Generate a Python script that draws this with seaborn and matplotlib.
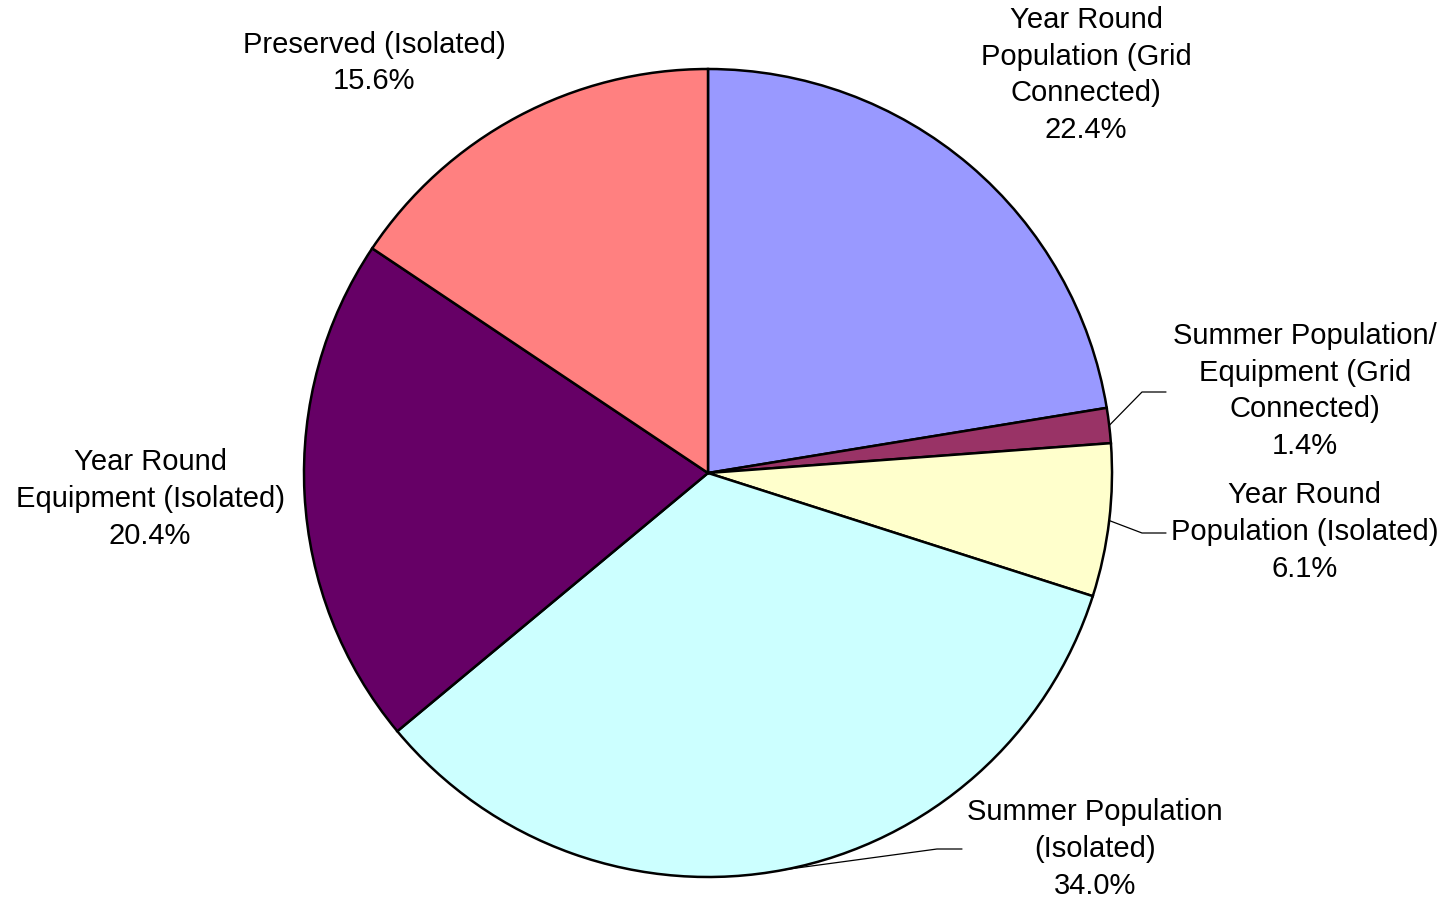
import matplotlib
matplotlib.use("Agg")
import matplotlib.pyplot as plt
import seaborn as sns
import numpy as np

labels = ['Year Round\nPopulation (Grid\nConnected)',
          'Summer Population/\nEquipment (Grid\nConnected)',
          'Year Round\nPopulation (Isolated)',
          'Summer Population\n(Isolated)',
          'Year Round\nEquipment (Isolated)',
          'Preserved (Isolated)']
shares = [22.4, 1.4, 6.1, 34.0, 20.4, 15.6]
colors = ['#9999FF', '#993366', '#FFFFCC', '#CCFFFF', '#660066', '#FF8080']

sns.set_theme(style="white")
plt.rcParams['font.family'] = ['Liberation Sans', 'DejaVu Sans']

W, H = 1451, 900
fig = plt.figure(figsize=(W / 100, H / 100), dpi=100)
ax = fig.add_axes([0, 0, 1, 1])

cx, cy, R = 708, H - 473, 404
wedges, _ = ax.pie(shares, colors=colors, startangle=90, counterclock=False,
                   center=(cx, cy), radius=R, frame=True,
                   wedgeprops=dict(edgecolor='black', linewidth=1.8))
ax.set_xlim(0, W)
ax.set_ylim(0, H)
ax.set_aspect('equal')
ax.axis('off')

# label centres (pixel, from top) and optional leader elbow / end
label_pos = [(1086, 75), (1305, 391), (1305, 532), (1095, 849), (150, 499), (374, 63)]
leaders = [None, ((1142, 392), (1166, 392)), ((1142, 533), (1166, 533)),
           ((937, 849), (962, 849)), None, None]

for w, lab, val, pos, ld in zip(wedges, labels, shares, label_pos, leaders):
    ax.text(pos[0], H - pos[1], f"{lab}\n{val:.1f}%", ha='center', va='center',
            fontsize=21, linespacing=1.39, color='black')
    if ld is not None:
        ang = np.deg2rad((w.theta1 + w.theta2) / 2)
        sx, sy = cx + R * np.cos(ang), cy + R * np.sin(ang)
        ax.plot([sx, ld[0][0], ld[1][0]], [sy, H - ld[0][1], H - ld[1][1]],
                color='black', linewidth=0.9)

fig.savefig('out.png', dpi=100)
